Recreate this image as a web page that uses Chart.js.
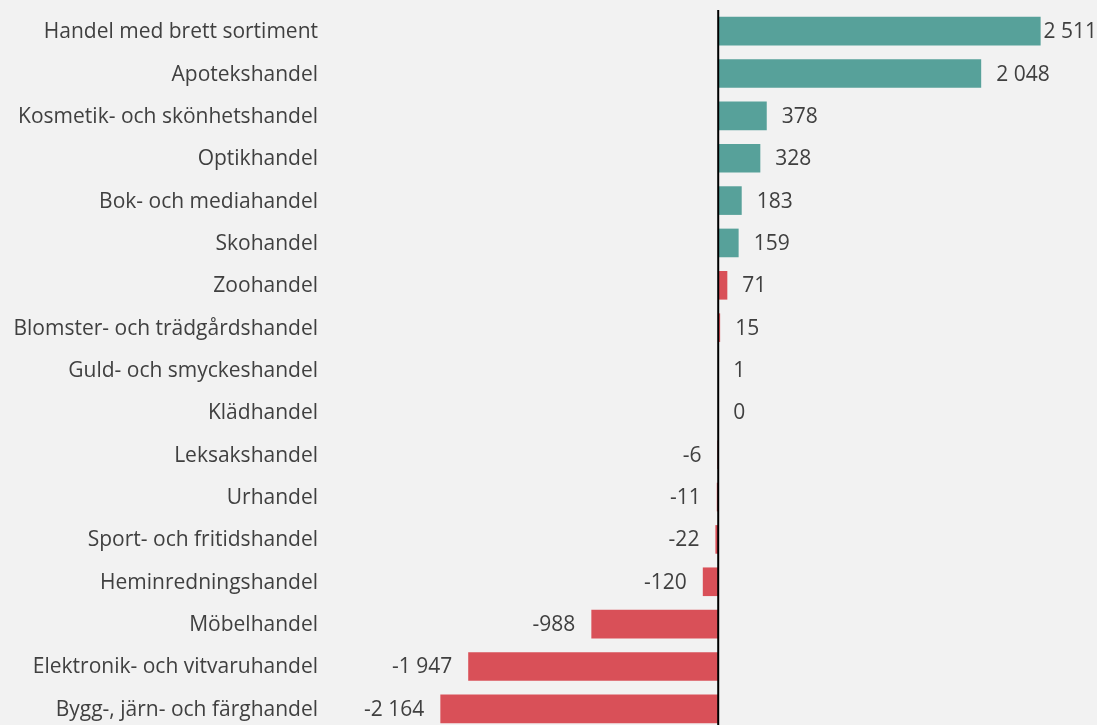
<!DOCTYPE html>
<html lang="sv">
<head>
  <meta charset="UTF-8">
  <title>Handel</title>
  <script src="https://cdn.jsdelivr.net/npm/chart.js"></script>
  <style>
    html, body {
      margin: 0;
      padding: 0;
      background: #f2f2f2;
      overflow: hidden;
    }
    .chart-box {
      width: 1097px;
      height: 730px;
    }
  </style>
</head>
<body>
  <div class="chart-box"><canvas id="barChart"></canvas></div>

  <script>
    const categories = [
      'Handel med brett sortiment',
      'Apotekshandel',
      'Kosmetik- och skönhetshandel',
      'Optikhandel',
      'Bok- och mediahandel',
      'Skohandel',
      'Zoohandel',
      'Blomster- och trädgårdshandel',
      'Guld- och smyckeshandel',
      'Klädhandel',
      'Leksakshandel',
      'Urhandel',
      'Sport- och fritidshandel',
      'Heminredningshandel',
      'Möbelhandel',
      'Elektronik- och vitvaruhandel',
      'Bygg-, järn- och färghandel'
    ];
    const values = [2511, 2048, 378, 328, 183, 159, 71, 15, 1, 0, -6, -11, -22, -120, -988, -1947, -2164];
    const tealCount = 6; // first bars drawn in teal, the rest in red

    const fontFamily = '"Open Sans", sans-serif';
    const textColor = '#404040';

    function fmt(v) {
      const s = String(Math.abs(v)).replace(/\B(?=(\d{3})+(?!\d))/g, ' ');
      return (v < 0 ? '-' : '') + s;
    }

    // category labels, value labels and the zero line
    const extras = {
      id: 'extras',
      afterDatasetsDraw(chart) {
        const { ctx, chartArea, scales } = chart;
        const x0 = scales.x.getPixelForValue(0);
        ctx.save();
        ctx.font = '21px ' + fontFamily;
        ctx.fillStyle = textColor;
        ctx.textBaseline = 'middle';
        categories.forEach((c, i) => {
          ctx.textAlign = 'right';
          ctx.fillText(c, chartArea.left - 15, scales.y.getPixelForValue(i) + 1);
        });
        const meta = chart.getDatasetMeta(0);
        meta.data.forEach((bar, i) => {
          const v = values[i];
          const txt = fmt(v);
          if (v < 0) {
            ctx.textAlign = 'right';
            ctx.fillText(txt, bar.x - 16, bar.y + 1);
          } else {
            const w = ctx.measureText(txt).width;
            let x = bar.x + 15;
            if (x + w > chart.width) x = chart.width - w;
            ctx.textAlign = 'left';
            ctx.fillText(txt, x, bar.y + 1);
          }
        });
        ctx.strokeStyle = '#000';
        ctx.lineWidth = 2;
        ctx.beginPath();
        ctx.moveTo(x0, chartArea.top);
        ctx.lineTo(x0, chartArea.bottom);
        ctx.stroke();
        ctx.restore();
      }
    };

    new Chart(document.getElementById('barChart').getContext('2d'), {
      type: 'bar',
      data: {
        labels: categories,
        datasets: [{
          data: values,
          backgroundColor: ctx => ctx.dataIndex < tealCount ? '#57a19a' : '#d95058',
          barPercentage: 0.676,
          categoryPercentage: 1.0
        }]
      },
      options: {
        indexAxis: 'y',
        responsive: true,
        maintainAspectRatio: false,
        animation: false,
        layout: { padding: { top: 10, right: 0, bottom: 0, left: 0 } },
        plugins: {
          legend: { display: false },
          tooltip: { enabled: false }
        },
        scales: {
          x: {
            display: false,
            min: -3000,
            max: 2950
          },
          y: {
            afterFit: s => { s.width = 333; },
            grid: { display: false, drawTicks: false },
            border: { display: false },
            ticks: { display: false }
          }
        }
      },
      plugins: [extras]
    });
  </script>
</body>
</html>
